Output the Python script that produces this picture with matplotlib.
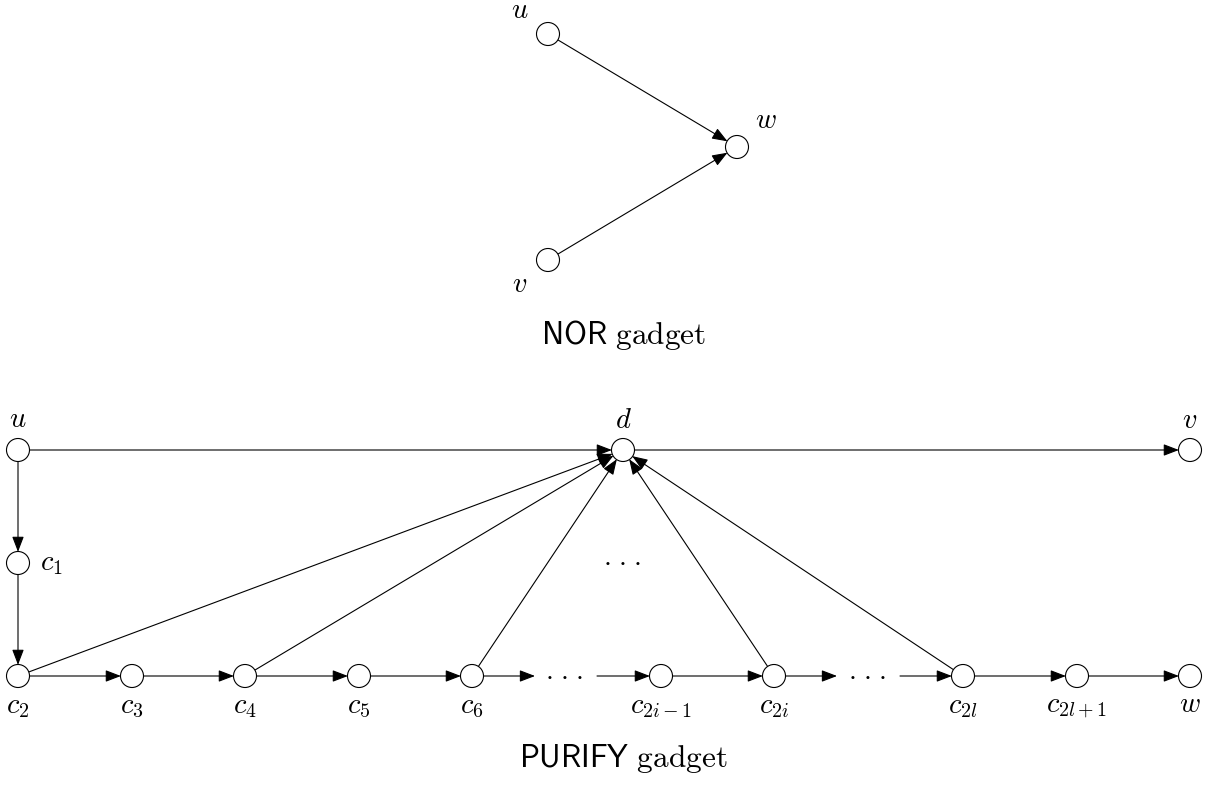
import matplotlib
matplotlib.use("Agg")
import matplotlib.pyplot as plt
from matplotlib.patches import Circle, FancyArrowPatch

plt.rcParams['mathtext.fontset'] = 'cm'

# node positions (pixel coords of the reference image)
nor_names = ['u', 'v', 'w']
nor_x = [548, 548, 737]
nor_y = [34, 260, 147]
nor_edges = [('u', 'w'), ('v', 'w')]

pur_names = ['u', 'd', 'v', 'c1', 'c2', 'c3', 'c4', 'c5', 'c6',
             'c2i-1', 'c2i', 'c2l', 'c2l+1', 'w']
pur_x = [18, 623, 1190, 18, 18, 132, 245, 359, 472, 661, 774, 963, 1077, 1190]
pur_y = [450, 450, 450, 563, 676, 676, 676, 676, 676, 676, 676, 676, 676, 676]
pur_edges = [('u', 'd'), ('d', 'v'), ('u', 'c1'), ('c1', 'c2'),
             ('c2', 'c3'), ('c3', 'c4'), ('c4', 'c5'), ('c5', 'c6'),
             ('c2i-1', 'c2i'), ('c2l', 'c2l+1'), ('c2l+1', 'w'),
             ('c2', 'd'), ('c4', 'd'), ('c6', 'd'), ('c2i', 'd'), ('c2l', 'd')]
# open-ended chain pieces around the bottom dots
loose_out = [('c6', 535), ('c2i', 837)]
loose_in = [(597, 'c2i-1'), (900, 'c2l')]

nor_labels = [r'$u$', r'$v$', r'$w$']
nor_lx = [520, 520, 766]
nor_ly = [18, 292, 128]
pur_labels = [r'$u$', r'$d$', r'$v$', r'$c_1$', r'$c_2$', r'$c_3$', r'$c_4$', r'$c_5$',
              r'$c_6$', r'$c_{2i-1}$', r'$c_{2i}$', r'$c_{2l}$', r'$c_{2l+1}$', r'$w$']
pur_lx = [18, 623, 1190, 40, 18, 132, 245, 359, 472, 661, 774, 963, 1077, 1190]
pur_ly = [427, 428, 428, 570, 713, 713, 713, 713, 713, 713, 713, 713, 713, 712]

R = 11.5
LW = 0.8
FS = 20.5

fig = plt.figure(figsize=(12.15, 7.87), dpi=100)
ax = fig.add_axes([0, 0, 1, 1])
ax.set_xlim(0, 1215)
ax.set_ylim(787, 0)
ax.axis('off')


def arrow(p, q, pa=None, pb=None):
    a = FancyArrowPatch(p, q, patchA=pa, patchB=pb, shrinkA=0, shrinkB=0,
                        arrowstyle='-|>,head_length=9.4,head_width=3.6',
                        mutation_scale=1, lw=LW, color='black', zorder=2)
    ax.add_patch(a)


def draw_graph(names, xs, ys, edges):
    circ = {}
    for n, x, y in zip(names, xs, ys):
        c = Circle((x, y), R, facecolor='white', edgecolor='black', lw=LW, zorder=3)
        ax.add_patch(c)
        circ[n] = (c, (x, y))
    for a, b in edges:
        arrow(circ[a][1], circ[b][1], circ[a][0], circ[b][0])
    return circ


nor = draw_graph(nor_names, nor_x, nor_y, nor_edges)
pur = draw_graph(pur_names, pur_x, pur_y, pur_edges)

for n, x in loose_out:
    c, (cx, cy) = pur[n]
    arrow((cx, cy), (x, cy), pa=c)
for x, n in loose_in:
    c, (cx, cy) = pur[n]
    arrow((x, cy), (cx, cy), pb=c)

for t, x, y in zip(nor_labels, nor_lx, nor_ly):
    ax.text(x, y, t, fontsize=FS, ha='center', va='baseline')
for n, t, x, y in zip(pur_names, pur_labels, pur_lx, pur_ly):
    ha = 'left' if n == 'c1' else 'center'
    ax.text(x, y, t, fontsize=FS, ha=ha, va='baseline')

# dots (centre of each group)
dots_x = [564, 867, 622]
dots_y = [672, 672, 558]
for x, y in zip(dots_x, dots_y):
    for k in (-1, 0, 1):
        ax.text(x + 15 * k, y, r'$\cdot$', fontsize=FS, ha='center',
                va='center_baseline')

ax.text(623, 344, r'$\mathsf{NOR}\ \mathrm{gadget}$', fontsize=22.5,
        ha='center', va='baseline')
ax.text(623, 767, r'$\mathsf{PURIFY}\ \mathrm{gadget}$', fontsize=22.5,
        ha='center', va='baseline')

fig.savefig('out.png', dpi=100)
